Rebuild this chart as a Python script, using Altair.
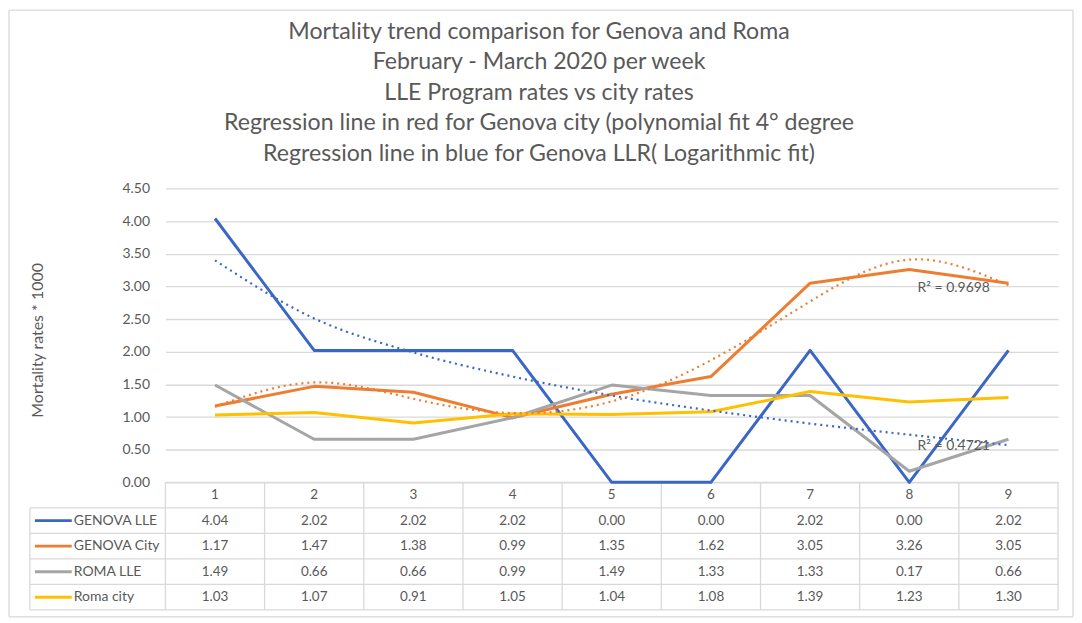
import altair as alt
import pandas as pd

# ---------------- data ----------------
weeks = [1, 2, 3, 4, 5, 6, 7, 8, 9]
series_names = ["GENOVA LLE", "GENOVA City", "ROMA  LLE", "Roma city"]
genova_lle = [4.04, 2.02, 2.02, 2.02, 0.00, 0.00, 2.02, 0.00, 2.02]
genova_city = [1.17, 1.47, 1.38, 0.99, 1.35, 1.62, 3.05, 3.26, 3.05]
roma_lle = [1.49, 0.66, 0.66, 0.99, 1.49, 1.33, 1.33, 0.17, 0.66]
roma_city = [1.03, 1.07, 0.91, 1.05, 1.04, 1.08, 1.39, 1.23, 1.30]
# trend lines
trend_genova_lle = [3.40, 2.51, 1.99, 1.62, 1.33, 1.10, 0.90, 0.73, 0.57]   # logarithmic
trend_genova_city = [1.16, 1.53, 1.28, 1.06, 1.24, 1.87, 2.77, 3.41, 3.02]  # polynomial 4th
r2_labels = ["R² = 0.9698", "R² = 0.4721"]
y_ticks = [0, 0.5, 1, 1.5, 2, 2.5, 3, 3.5, 4, 4.5]
title_lines = [
    "Mortality trend comparison for Genova and Roma",
    "February - March 2020 per week",
    "LLE Program rates  vs city rates",
    "Regression line in red for Genova city (polynomial fit 4° degree",
    "Regression line in blue for Genova LLR( Logarithmic fit)",
]
colors = ["#3A66C5", "#ED7D31", "#A5A5A5", "#FFC000"]

# ---------------- layout constants ----------------
W, H = 896, 423
PX = W / 9.0                 # px per week
Y_TOP = 4.5
PY = 295 / 4.5               # px per unit
Y_MIN = -128 / PY            # bottom of table
ROW = Y_MIN / 5              # row height in data units (negative)
FONT = "Lato"
TXT = "#595959"
GRID = "#d9d9d9"

yaxis = alt.Axis(
    values=y_ticks, format=".2f", title="Mortality rates * 1000",
    labelFont=FONT, labelFontSize=14, labelColor=TXT, labelPadding=16,
    titleFont=FONT, titleFontSize=16, titleFontWeight="normal", titleColor=TXT,
    titlePadding=77, titleY=152, grid=True, gridColor=GRID, gridWidth=1.3,
    domain=False, ticks=False)


def X(f):
    return alt.X(f, scale=alt.Scale(domain=[0.5, 9.5], nice=False, zero=False), axis=None)


def Y(f):
    return alt.Y(f, scale=alt.Scale(domain=[Y_MIN, Y_TOP], nice=False, zero=False), axis=yaxis)


def px_x(p):   # page pixel -> week units (layout helpers only)
    return 0.5 + (p - 166) / PX


def px_y(p):
    return Y_TOP - (p - 188) / PY


all_vals = [genova_lle, genova_city, roma_lle, roma_city]
long = pd.DataFrame(
    [{"week": w, "series": s, "value": v, "rowi": i + 1}
     for i, (s, vals) in enumerate(zip(series_names, all_vals))
     for w, v in zip(weeks, vals)]
)
long["ty"] = (long["rowi"] + 0.5) * ROW

color = alt.Color("series:N", scale=alt.Scale(domain=series_names, range=colors), legend=None)

lines = alt.Chart(long).mark_line(strokeWidth=3, strokeJoin="round").encode(
    x=X("week:Q"), y=Y("value:Q"), color=color, order="week:Q",
)

tdf_blue = pd.DataFrame({"week": weeks, "value": trend_genova_lle})
tdf_orange = pd.DataFrame({"week": weeks, "value": trend_genova_city})
trend_blue = alt.Chart(tdf_blue).mark_line(
    strokeWidth=2.2, strokeDash=[2, 4], color=colors[0], interpolate="monotone"
).encode(x=X("week:Q"), y=Y("value:Q"))
trend_orange = alt.Chart(tdf_orange).mark_line(
    strokeWidth=2.2, strokeDash=[2, 4], color=colors[1], interpolate="natural"
).encode(x=X("week:Q"), y=Y("value:Q"))

r2df = pd.DataFrame({"label": r2_labels, "x": [px_x(921)] * 2, "y": [px_y(288), px_y(447)]})
r2 = alt.Chart(r2df).mark_text(
    align="left", baseline="middle", font=FONT, fontSize=14, color=TXT
).encode(x=X("x:Q"), y=Y("y:Q"), text="label:N")

# ---------------- table & frame ----------------
XL = px_x(30)
segs = []
for k in range(10):  # vertical borders of data columns
    segs.append({"xa": 0.5 + k, "xb": 0.5 + k, "ya": Y_MIN, "yb": 0})
segs.append({"xa": XL, "xb": XL, "ya": Y_MIN, "yb": ROW})
segs.append({"xa": 0.5, "xb": 9.5, "ya": 0, "yb": 0})
for k in range(1, 6):
    segs.append({"xa": XL, "xb": 9.5, "ya": ROW * k, "yb": ROW * k})
# outer chart frame
fl, fr, ft, fb = px_x(9), px_x(1077), px_y(9), px_y(618)
segs += [
    {"xa": fl, "xb": fr, "ya": ft, "yb": ft},
    {"xa": fl, "xb": fr, "ya": fb, "yb": fb},
    {"xa": fl, "xb": fl, "ya": fb, "yb": ft},
    {"xa": fr, "xb": fr, "ya": fb, "yb": ft},
]
segdf = pd.DataFrame(segs)
grid_rules = alt.Chart(segdf).mark_rule(color=GRID, strokeWidth=1.3).encode(
    x=X("xa:Q"), x2=alt.X2("xb"), y=Y("ya:Q"), y2=alt.Y2("yb")
)

hdr = pd.DataFrame({"week": weeks, "y": [ROW * 0.5] * 9})
header = alt.Chart(hdr).mark_text(font=FONT, fontSize=13.5, color=TXT, baseline="middle").encode(
    x=X("week:Q"), y=Y("y:Q"), text="week:N"
)

cells = alt.Chart(long).mark_text(font=FONT, fontSize=13.5, color=TXT, baseline="middle").encode(
    x=X("week:Q"), y=Y("ty:Q"), text=alt.Text("value:Q", format=".2f")
)

rowdf = pd.DataFrame({"series": series_names,
                      "y": [(i + 1.5) * ROW for i in range(4)],
                      "sx1": [px_x(35)] * 4, "sx2": [px_x(72)] * 4,
                      "lx": [px_x(74)] * 4})
swatch = alt.Chart(rowdf).mark_rule(strokeWidth=3).encode(
    x=X("sx1:Q"), x2=alt.X2("sx2"), y=Y("y:Q"), color=color
)
rowlab = alt.Chart(rowdf).mark_text(font=FONT, fontSize=14, color=TXT, align="left",
                                    baseline="middle").encode(
    x=X("lx:Q"), y=Y("y:Q"), text="series:N"
)

# ---------------- title (five centred lines) ----------------
tdf = pd.DataFrame({"line": title_lines,
                    "x": [px_x(541)] * 5,
                    "y": [px_y(31 + 30.5 * i) for i in range(5)]})
title = alt.Chart(tdf).mark_text(
    font=FONT, fontSize=23.2, color=TXT, align="center", baseline="middle"
).encode(x=X("x:Q"), y=Y("y:Q"), text="line:N")

chart = alt.layer(
    grid_rules, lines, trend_blue, trend_orange, r2, header, cells, swatch, rowlab, title
).properties(
    width=W, height=H, autosize=alt.AutoSizeParams(type="none"),
    padding={"left": 158, "top": 180, "right": 16, "bottom": 8},
    background="white",
).configure_view(stroke=None)

chart.save("out.html", embed_options={"renderer": "svg", "actions": False})
